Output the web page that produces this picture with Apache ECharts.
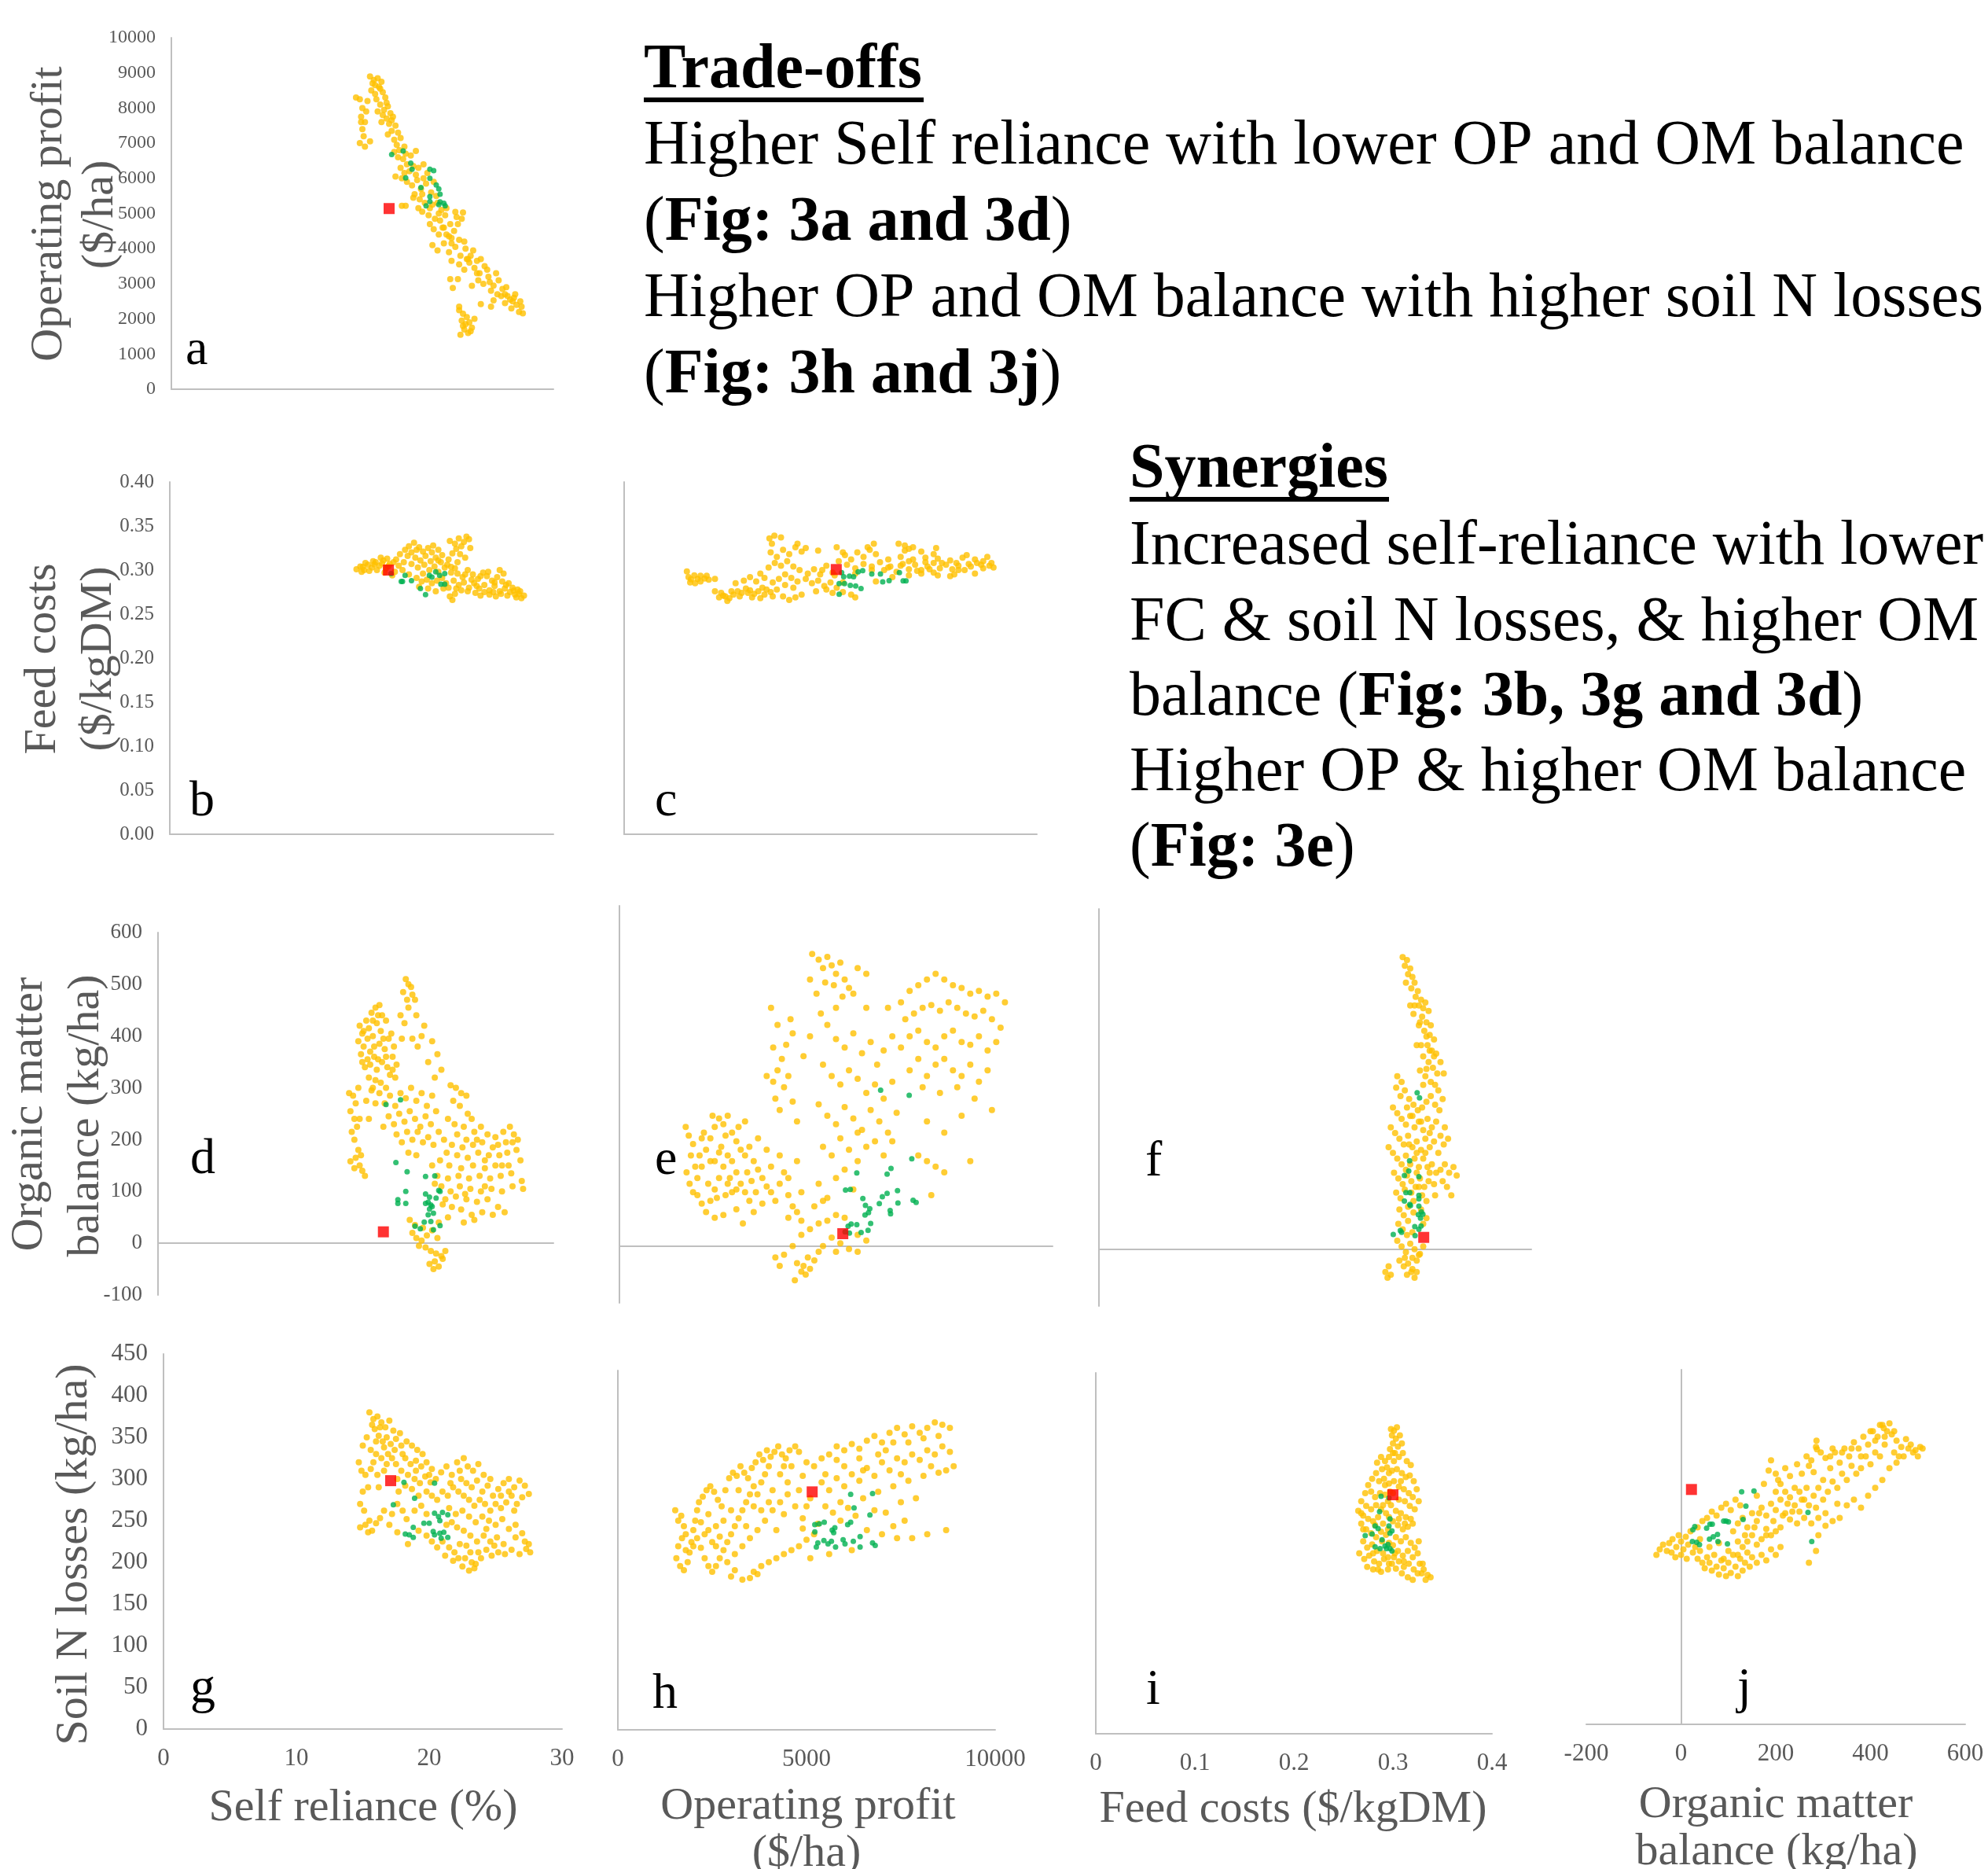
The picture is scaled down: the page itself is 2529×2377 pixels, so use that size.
<!DOCTYPE html>
<html>
<head>
<meta charset="utf-8">
<script src="https://cdn.jsdelivr.net/npm/echarts@6/dist/echarts.min.js"></script>
<style>
  html, body { margin: 0; padding: 0; background: #fff; }
  #main { width: 2529px; height: 2377px; }
</style>
</head>
<body>
<div id="main"></div>
<script>
// values, one small set per panel: [x, y]
// a: self reliance (%) vs operating profit ($/ha)
const aYellow = [[15.6,8900],[15.9,8800],[16.2,8850],[16.5,8750],[16.3,8600],[15.7,8500],[16.0,8400],[16.6,8450],[16.1,8250],[16.8,8300],[15.4,8200],[16.4,8100],[17.0,8050],[16.7,7950],[16.2,7900],[17.2,7850],[16.9,7700],[17.4,7750],[16.5,7600],[17.1,7550],[17.6,7500],[17.3,7350],[17.0,7250],[17.8,7300],[17.5,7100],[18.0,7150],[17.7,6950],[18.3,6900],
  [14.5,8300],[14.8,8250],[15.0,8000],[14.9,7750],[15.2,7600],[15.0,7400],[15.1,7200],[14.8,7000],[15.2,6900],[15.6,7050],[14.9,7600],[15.3,7900],[19.2,6780],
  [17.5,6750],[17.8,6600],[18.2,6550],[18.5,6400],[18.0,6300],[18.7,6200],[19.0,6350],[19.4,6300],[19.8,6400],[20.1,6150],[17.6,6050],[18.1,6000],[18.5,5900],[18.9,5800],[19.3,5950],[19.6,5700],[20.0,5850],[20.4,5600],[20.8,5500],[19.1,5550],[19.5,5400],[19.9,5300],[20.5,5250],[21.2,5100],[21.6,5150],[19.7,5050],[20.2,4950],[20.7,4850],[21.1,4800],[21.5,4950],[21.9,4700],[22.4,4900],[22.8,4850],[20.6,4550],[21.0,4400],[21.4,4600],[21.8,4350],[22.2,4500],[22.6,4250],[20.5,4100],[20.9,3950],[21.4,4150],[21.8,3900],[22.3,4050],[22.7,3800],[23.1,4000],[23.5,3800],[22.0,3650],[22.6,3550],[23.0,3400],[23.4,3600],[23.8,3450],[24.2,3300],[24.6,3500],[24.1,3100],[24.5,3000],[24.9,3200],[25.3,2950],[25.7,3100],[25.1,2800],[25.6,2700],[26.0,2850],[26.4,2650],[26.8,2500],[26.2,2450],[26.7,2300],[27.1,2400],[27.5,2350],[27.3,2200],[27.6,2160],[26.9,2600],
  [18.1,5220],[18.4,5220],[22.9,5030],[22.3,5045],[20.3,4700],[21.0,5000],[19.4,5150],[22.0,4150],[23.3,3700],[24.0,3650],[25.0,3050],[26.2,2700],
  [22.6,2250],[22.9,2150],[23.2,2050],[22.8,1950],[23.1,1850],[23.4,1900],[23.0,1700],[23.3,1600],[22.7,1550],[23.6,1750],[23.8,2000],[22.9,1800],[23.5,1650],
  [21.9,3130],[22.5,3130],[22.1,2880],[22.6,2350],[23.6,2940],[24.3,2420],[25.3,2530],[25.1,2350],
  [16.0,8650],[16.4,8550],[15.8,8700],[16.9,8150],[17.3,7650],[16.6,7800],[17.9,6800],[18.4,6700],[18.8,6650],[18.3,6150],[19.2,6100],[19.8,6000],[20.6,5900],[19.0,5450],[19.7,5550],[20.3,5150],[20.9,5300],[21.3,4600],[22.0,4300],[21.6,4400],[22.5,4700],[23.0,4200],[23.7,3950],[23.2,3700],[24.0,3300],[24.3,3700],[24.8,3400],[25.5,3300],[25.9,2650],[26.3,2900],[26.6,2550],[27.0,2700],[27.4,2500]];
const aGreen = [[17.3,6680],[18.2,6780],[18.8,6430],[18.9,6260],[18.4,6010],[20.3,6260],[20.6,6220],[20.3,6000],[19.6,5740],[20.8,5810],[21.0,5700],[21.1,5550],[20.3,5480],[20.3,5340],[21.1,5330],[21.0,5250],[21.4,5290],[20.0,5220],[21.5,5220]];
const aRed = [[17.1,5140]];

// b: self reliance (%) vs feed costs ($/kgDM)
const bYellow = [[14.6,0.301],[14.9,0.304],[15.2,0.300],[15.5,0.306],[15.8,0.303],[16.1,0.309],[16.4,0.305],[16.7,0.311],[15.0,0.298],[15.6,0.299],[16.2,0.300],[16.9,0.302],[17.2,0.307],[17.5,0.309],[17.0,0.313],[16.5,0.314],[15.9,0.310],[15.3,0.308],[17.7,0.312],[17.9,0.305],[18.2,0.300],[17.6,0.298],[16.8,0.297],[17.4,0.294],
  [18.0,0.318],[18.4,0.323],[18.7,0.327],[19.1,0.331],[19.5,0.326],[19.8,0.321],[20.2,0.325],[20.6,0.328],[21.0,0.323],[21.3,0.317],[18.6,0.316],[19.2,0.314],[19.6,0.311],[20.0,0.316],[20.4,0.310],[20.8,0.314],[21.2,0.309],[18.9,0.307],[19.4,0.303],[19.9,0.306],[20.3,0.300],[20.7,0.304],[21.5,0.303],[21.0,0.298],[19.8,0.296],[18.7,0.295],[19.3,0.291],[19.7,0.287],[20.1,0.289],[20.5,0.285],[20.9,0.288],[21.3,0.291],[19.5,0.281],[20.2,0.279],[20.8,0.276],[21.4,0.279],[21.6,0.285],[22.0,0.297],[22.3,0.302],[22.5,0.309],[21.8,0.312],[22.1,0.319],[22.4,0.324],
  [21.9,0.333],[22.3,0.330],[22.6,0.336],[23.0,0.332],[23.4,0.335],[23.2,0.338],[22.8,0.327],[23.5,0.325],[22.7,0.318],[23.1,0.314],
  [22.5,0.296],[22.9,0.292],[23.3,0.300],[23.7,0.295],[24.1,0.290],[24.5,0.297],[24.8,0.293],[25.2,0.288],[25.6,0.292],[26.0,0.287],[26.3,0.283],[22.2,0.288],[22.6,0.283],[23.0,0.286],[23.4,0.280],[23.8,0.285],[24.2,0.279],[24.6,0.283],[25.0,0.277],[25.4,0.282],[25.8,0.276],[26.2,0.279],[26.6,0.275],[27.0,0.272],[27.4,0.276],[27.7,0.271],[27.5,0.268],[27.1,0.269],[26.8,0.280],[27.3,0.273],[26.4,0.271],[25.9,0.273],[25.5,0.270],[25.0,0.272],[24.6,0.275],[24.3,0.271],[23.9,0.274],[23.3,0.276],[22.8,0.277],[22.3,0.273],[21.9,0.270],[22.1,0.266],[21.8,0.280],[23.6,0.289],[24.9,0.298],[25.8,0.300],[26.1,0.296],
  [15.1,0.3035],[16.0,0.3065],[16.6,0.3075],[17.1,0.3045],[18.3,0.309],[18.9,0.320],[19.3,0.323],[20.5,0.320],[21.0,0.311],[21.7,0.306],[22.0,0.3035],[23.1,0.295],[24.3,0.293],[25.4,0.286],[26.5,0.285],[27.2,0.278],[26.9,0.2765],[25.3,0.275],[24.0,0.282],[22.4,0.279]];
const bGreen = [[17.3,0.296],[18.2,0.287],[18.4,0.294],[18.9,0.288],[19.6,0.279],[20.0,0.272],[20.3,0.294],[20.8,0.298],[21.1,0.294],[20.5,0.292],[21.2,0.284],[21.5,0.284],[21.5,0.296],[18.1,0.287]];
const bRed = [[17.1,0.300]];

// c: operating profit ($/ha) vs feed costs ($/kgDM)
const cYellow = [[1520,0.2985],[1560,0.2920],[1620,0.2895],[1700,0.2940],[1780,0.2900],[1850,0.2935],[1950,0.2905],[2050,0.2890],[2200,0.2900],[1600,0.2860],[1720,0.2850],[1850,0.2870],[2200,0.2760],[2350,0.2740],[2450,0.2700],[2550,0.2680],[2650,0.2720],[2750,0.2760],[2850,0.2740],[2950,0.2790],[3050,0.2770],[3150,0.2730],[3250,0.2760],[3350,0.2800],[3450,0.2780],[3550,0.2750],[2300,0.2690],[2500,0.2650],[2800,0.2700],[3100,0.2690],[3400,0.2720],[3700,0.2780],[3850,0.2700],[4000,0.2660],[4150,0.2690],[4300,0.2720],[2700,0.2850],[2900,0.2880],[3050,0.2920],[3200,0.2870],[3400,0.2910],[3600,0.2860],[3750,0.2900],[3900,0.2950],[4050,0.2910],[4200,0.2870],[3300,0.2960],[3500,0.3030],[3650,0.3080],[3800,0.3050],[3950,0.3100],[4100,0.3040],[4250,0.3000],[3550,0.3200],[3700,0.3150],[3850,0.3230],[4000,0.3180],[4150,0.3260],[4300,0.3210],[3520,0.3360],[3640,0.3390],[3800,0.3370],[3580,0.3300],[4200,0.3300],[4400,0.3250],
  [4450,0.2960],[4600,0.3010],[4750,0.2950],[4900,0.3050],[5050,0.2970],[4550,0.2850],[4700,0.2880],[4850,0.2820],[5000,0.2860],[5150,0.2800],[5300,0.2750],[5500,0.2720],[4900,0.2780],[5050,0.2740],[4650,0.2760],[5200,0.3100],[5350,0.3170],[5500,0.3120],[5650,0.3200],[5800,0.3150],[5950,0.3230],[6100,0.3180],[5400,0.3060],[5600,0.3020],[5800,0.3070],[6000,0.3040],[6200,0.3090],[5900,0.3260],[6050,0.3300],[5150,0.3260],[4700,0.3220],[5300,0.3200],
  [6300,0.3000],[6450,0.3040],[6600,0.2980],[6750,0.3070],[6900,0.3010],[7050,0.3060],[7200,0.3000],[7350,0.3040],[7500,0.3080],[7650,0.3020],[7800,0.3060],[7950,0.3010],[8100,0.3050],[8250,0.3000],[8400,0.3040],[8550,0.3080],[8700,0.3020],[8850,0.3050],[8950,0.3030],[6400,0.3120],[6700,0.3150],[7000,0.3120],[7300,0.3140],[7600,0.3130],[7900,0.3110],[8200,0.3140],[8500,0.3120],[8800,0.3150],[6900,0.3240],[7200,0.3210],[6800,0.3280],[7000,0.3260],[7500,0.3180],[7200,0.2960],[7600,0.2940],[8000,0.2950],[8500,0.2960],[7900,0.2930],[6500,0.2920],[6900,0.2940],[7500,0.2970],[8100,0.3000],[6100,0.2870],[5600,0.2690],[5300,0.2860],[8700,0.3100],[8300,0.3170],[7100,0.2990],[7560,0.3250],[6650,0.3300],[6800,0.3220],
  [2000,0.2935],[2400,0.2710],[2600,0.2760],[3000,0.2740],[3300,0.2680],[3600,0.2700],[3900,0.2830],[4100,0.2800],[4400,0.2900],[4800,0.3000],[5100,0.2940],[5600,0.2960],[6000,0.3000],[6400,0.3030],[6700,0.3050],[7400,0.3010],[7700,0.3080],[8050,0.3080],[8350,0.3070],[8650,0.3060],[8900,0.3080],[7300,0.3090],[6900,0.3100]];
const cGreen = [[5270,0.297],[5320,0.2925],[5460,0.293],[5560,0.2925],[5670,0.298],[5780,0.2994],[6000,0.2955],[6210,0.2955],[6670,0.297],[5210,0.2845],[5340,0.2845],[5480,0.2827],[5610,0.282],[5740,0.279],[6265,0.2866],[6420,0.288],[6760,0.2878],[6830,0.2878],[5210,0.2725]];
const cRed = [[5140,0.3006]];

// d: self reliance (%) vs organic matter balance (kg/ha)
const dYellow = [[15.3,420],[15.5,405],[15.2,390],[15.6,380],[15.4,365],[15.8,430],[16.0,415],[16.2,445],[16.5,455],[16.8,460],[17.0,440],[16.6,425],[16.3,400],[16.9,410],[17.3,430],[17.5,395],[17.2,375],[16.8,385],[16.4,360],[16.1,345],[15.7,340],[16.0,320],[16.6,335],[17.0,350],[17.4,340],[17.8,360],[18.1,345],[17.6,325],[16.9,310],[16.3,300],[17.3,300],[18.0,320],[15.9,355],[15.5,350],[17.7,405],[17.9,380],
  [18.8,510],[19.0,500],[19.2,495],[18.6,485],[19.3,480],[18.9,470],[19.5,470],[19.0,455],[18.4,440],[18.7,425],[19.6,440],[20.2,420],[19.3,395],[20.0,400],[19.7,380],[18.5,395],
  [14.5,290],[14.8,285],[15.0,270],[14.6,255],[14.9,240],[15.3,240],[15.1,225],[14.7,215],[14.9,200],[15.2,180],[15.0,165],[14.6,158],[15.3,150],[15.5,140],[14.9,145],[15.4,170],[15.7,130],[16.0,240],[16.2,295],[15.8,275],
  [16.8,290],[17.2,270],[17.6,285],[18.0,265],[18.4,290],[18.8,280],[19.2,300],[19.6,275],[20.0,290],[20.4,265],[20.8,285],[17.5,245],[17.9,230],[18.3,250],[18.7,235],[19.1,255],[19.5,240],[19.9,225],[20.3,245],[20.7,230],[21.1,255],[18.1,210],[18.5,195],[18.9,215],[19.3,200],[19.7,215],[20.1,195],[20.5,205],[20.9,190],[21.3,215],[19.0,175],[19.6,170],[16.5,270],[17.1,225],[21.0,320],[20.5,350],[21.2,365],[20.8,390],[21.5,335],
  [22.2,305],[22.6,300],[23.0,290],[23.4,285],[22.4,275],[22.9,265],[23.5,250],[23.8,240],[22.0,240],[22.5,230],[23.2,225],[24.0,215],[24.5,225],[25.0,210],[25.6,205],[26.2,215],[26.7,225],[27.0,210],[27.3,200],[26.9,195],[25.8,190],[24.6,195],[23.9,190],[23.1,185],[22.3,190],[21.7,200],[21.9,175],[22.7,170],[23.5,165],[24.3,175],[25.1,170],[25.9,170],[26.5,175],[27.2,180],[27.5,160],[26.6,150],[25.6,150],[24.8,145],[23.9,150],[23.0,145],[22.1,150],[21.4,160],[20.8,150],[21.2,130],[22.0,125],[22.8,130],[23.6,125],[24.4,130],[25.2,125],[26.0,130],[26.8,135],[27.6,120],[27.7,105],[26.9,110],[26.1,100],[25.3,105],[24.5,100],[23.7,105],[22.9,110],[22.2,100],[21.5,110],[21.0,115],[21.8,85],[22.6,90],[23.4,85],[24.2,80],[25.0,85],[25.8,70],[24.6,60],[23.8,55],[23.0,65],[22.3,70],[21.6,75],[23.2,40],[24.0,45],[21.3,40],[22.0,50],[26.3,60],[25.4,55],
  [19.3,20],[19.6,10],[20.0,5],[20.4,15],[20.8,25],[21.2,10],[19.8,-5],[20.3,-8],[20.7,-15],[21.1,-20],[21.5,-25],[21.0,-35],[20.6,-40],[21.3,-45],[20.9,-50],[21.8,-15],[21.6,-30],[19.5,35],[20.1,30],[19.1,45],
  [15.6,410],[16.3,430],[16.7,440],[15.9,395],[16.4,380],[17.1,395],[16.1,370],[16.7,355],[17.3,360],[17.8,335],[16.5,315],[15.2,300],[24.2,200],[25.4,185],[26.4,195],[22.7,210],[23.4,200],[24.8,160],[26.1,150],[23.3,95],[24.8,110]];
const dGreen = [[17.3,268],[18.4,277],[18.05,156],[18.9,138],[18.8,100],[18.2,84],[18.2,77],[18.8,77],[20.3,129],[21.0,130],[20.3,95],[20.6,89],[21.1,87],[21.3,102],[21.4,100],[20.7,74],[20.3,77],[20.6,66],[20.9,58],[20.5,55],[20.7,42],[20.2,41],[19.5,33],[19.9,28],[20.9,26],[21.4,34],[20.8,71],[20.5,79]];
const dRed = [[17.1,22]];

// e: operating profit ($/ha) vs organic matter balance (kg/ha)
const eYellow = [[1530,210],[1600,195],[1700,180],[1650,160],[1550,130],[1620,110],[1700,95],[1800,120],[1900,140],[2000,170],[2100,190],[2200,210],[2300,225],[2400,215],[2500,230],[2600,200],[2700,185],[2800,170],[2900,160],[3000,175],[3100,150],[3200,135],[3300,120],[3400,105],[3500,95],[3600,80],[3700,110],[3800,130],[3900,90],[4000,70],[4100,60],[4200,45],[1800,90],[1900,75],[2000,60],[2100,80],[2200,100],[2300,120],[2400,140],[2500,160],[2600,150],[2700,130],[2800,110],[2900,95],[3000,80],[3100,60],[2200,150],[2350,175],[1950,200],[2150,230],[2450,195],[2750,210],[2050,110],[2600,95],[2900,220],[3200,190],[3400,170],[3500,140],[3700,160],[3300,75],[2850,40],[2400,55],[2700,65],[2200,50],[3900,120],[4100,150],[4200,95],[1750,140],[2550,120],[3050,115],
  [3550,290],[3650,310],[3750,330],[3600,260],[3800,280],[3900,300],[3700,240],[4000,255],[4100,220],[3850,355],[4000,375],[3950,400],[3650,390],[3500,420],[4250,335],[4400,370],[3400,300],[3550,350],
  [4450,515],[4600,505],[4700,490],[4800,510],[4900,495],[5000,480],[5100,500],[5200,470],[5300,455],[4750,465],[4950,460],[5500,490],[5700,480],[5400,445],[4400,470],[4550,445],[5150,440],
  [4800,390],[5000,365],[5200,350],[5400,375],[5600,340],[5800,360],[5950,320],[6100,345],[6300,370],[4700,320],[4900,300],[5100,285],[5300,310],[5500,295],[5700,270],[5900,285],[6100,260],[6300,290],[4600,250],[4800,230],[5000,215],[5200,245],[5400,225],[5600,205],[5800,240],[6000,220],[6200,200],[6400,235],[4700,175],[4900,160],[5100,190],[5300,170],[5500,150],[5700,175],[5900,185],[6100,160],[6300,185],[5000,120],[5200,135],[5400,100],[4600,110],[4800,85],[5500,200],[5000,420],[4650,410],[5700,420],[6200,420],
  [6500,430],[6700,450],[6900,460],[7100,470],[7300,480],[7500,470],[7700,460],[7900,455],[8100,445],[8300,450],[8500,440],[8700,445],[8900,430],[6600,400],[6800,410],[7000,420],[7200,425],[7400,415],[7600,430],[7800,420],[8000,410],[8200,405],[8400,415],[8600,400],[8800,385],[6500,350],[6700,370],[6900,380],[7100,360],[7300,350],[7500,370],[7700,380],[7900,360],[8100,355],[8300,370],[8500,345],[8700,360],[6700,310],[6900,330],[7100,300],[7300,320],[7500,330],[7700,310],[7900,300],[8100,320],[8300,290],[8500,310],[7000,280],[7400,270],[7800,280],[8200,260],[8600,240],[7100,220],[7500,200],[7900,230],[6900,160],[7100,150],[7300,140],[7500,130],[8100,150],[7200,90],
  [3600,-20],[3700,-35],[3800,-15],[4000,0],[4100,-30],[4200,-45],[4300,-50],[4400,-40],[4500,-25],[4600,-10],[4700,0],[4900,15],[5100,5],[5300,-5],[5500,20],[5700,10],[4400,30],[4200,20],[4600,40],[4800,45],[5000,55],[5200,50],[4500,70],[4700,80],[3900,50],[5500,-10],[4350,-20],[4050,-60],[4250,-35],[5000,-10],
  [1900,190],[2100,150],[2300,165],[2500,110],[2700,100],[2950,130],[3150,95],[2250,85],[2450,90],[1850,160]];
const eGreen = [[6030,275],[6690,266],[6750,154],[6270,137],[6180,127],[5480,129],[5220,99],[5330,100],[5620,84],[6070,87],[6180,93],[6420,98],[6000,75],[5680,72],[6430,76],[6780,81],[6850,77],[5780,66],[5750,59],[5670,55],[6250,63],[6260,57],[5800,40],[5740,28],[5580,24],[5480,38],[5350,39],[5280,35],[5310,23],[5210,25]];
const eRed = [[5157,22]];

// f: feed costs ($/kgDM) vs organic matter balance (kg/ha)
const fYellow = [[0.281,515],[0.285,510],[0.283,500],[0.288,495],[0.286,485],[0.290,480],[0.284,470],[0.292,470],[0.289,460],[0.295,455],[0.293,445],[0.298,440],[0.296,430],[0.300,425],[0.302,435],[0.305,420],[0.299,410],[0.303,400],[0.307,395],[0.301,385],[0.306,378],[0.310,370],[0.304,360],[0.308,350],[0.312,345],[0.300,340],[0.305,330],[0.309,320],[0.313,310],[0.297,315],[0.302,305],[0.307,295],[0.311,290],[0.316,330],[0.319,310],[0.314,280],[0.296,395],[0.294,360],[0.291,415],[0.288,430],
  [0.276,305],[0.280,295],[0.275,285],[0.279,270],[0.283,280],[0.287,265],[0.291,255],[0.295,245],[0.299,250],[0.303,260],[0.307,270],[0.311,255],[0.315,245],[0.318,265],[0.272,250],[0.276,240],[0.280,230],[0.284,220],[0.288,235],[0.292,215],[0.296,225],[0.300,210],[0.304,230],[0.308,215],[0.312,225],[0.316,200],[0.320,215],[0.270,215],[0.274,205],[0.278,195],[0.282,185],[0.286,200],[0.290,180],[0.294,190],[0.298,175],[0.302,195],[0.306,180],[0.310,190],[0.314,170],[0.319,185],[0.323,195],[0.268,180],[0.272,170],[0.276,160],[0.280,150],[0.284,165],[0.288,150],[0.292,160],[0.296,145],[0.300,160],[0.304,145],[0.308,150],[0.312,135],[0.316,140],[0.320,150],[0.324,135],[0.328,145],[0.331,130],[0.273,135],[0.277,125],[0.281,115],[0.285,130],[0.289,120],[0.293,110],[0.297,125],[0.301,110],[0.305,120],[0.310,115],[0.318,120],[0.322,110],[0.275,100],[0.279,90],[0.283,105],[0.291,85],[0.299,95],[0.303,85],[0.311,95],[0.278,70],[0.282,60],[0.286,75],[0.291,65],[0.298,70],[0.303,55],[0.277,45],[0.281,35],[0.285,25],[0.300,45],[0.326,95],
  [0.276,15],[0.280,5],[0.284,-5],[0.288,10],[0.292,0],[0.296,-10],[0.300,5],[0.278,-20],[0.282,-30],[0.286,-25],[0.290,-35],[0.294,-20],[0.285,-45],[0.289,-40],[0.292,-50],[0.268,-30],[0.265,-40],[0.270,-45],[0.267,-50],[0.297,-8],
  [0.292,430],[0.297,400],[0.303,375],[0.306,350],[0.310,340],[0.298,360],[0.303,318],[0.300,290],[0.285,250],[0.290,235],[0.298,225],[0.306,205],[0.294,170],[0.302,170],[0.287,185],[0.284,140],[0.294,135],[0.306,135],[0.289,100],[0.296,110],[0.286,50],[0.290,30],[0.283,-15],[0.290,-15],[0.294,-40]];
const fGreen = [[0.2944,276],[0.2966,267],[0.2874,156],[0.2866,138],[0.2826,130],[0.296,128],[0.284,100],[0.2876,100],[0.296,95],[0.2826,85],[0.2876,79],[0.2882,77],[0.296,89],[0.296,76],[0.2983,66],[0.2955,61],[0.2975,55],[0.2997,62],[0.298,41],[0.296,35],[0.2922,40],[0.2925,24],[0.2788,33],[0.2723,26],[0.280,30]];
const fRed = [[0.3005,21]];

// g: self reliance (%) vs soil N losses (kg/ha)
const gYellow = [[15.5,380],[15.8,372],[16.1,375],[16.4,368],[16.7,362],[17.0,370],[17.3,358],[15.9,360],[16.2,352],[16.5,345],[16.8,350],[17.1,342],[17.5,348],[17.8,355],[15.3,350],[15.0,340],[15.6,335],[16.0,330],[16.4,325],[16.9,330],[17.4,335],[17.9,340],[18.3,345],[18.7,340],[19.1,335],[19.5,330],[18.2,325],[18.6,318],[19.0,322],[19.4,315],[19.8,320],[20.2,312],[14.7,320],[14.9,310],[15.2,305],[15.6,312],[16.1,305],[16.6,310],[17.5,318],[17.9,310],[18.4,305],[18.9,300],[19.3,295],[19.7,303],[20.1,296],[20.5,300],[20.9,308],[21.3,315],[21.7,305],[22.1,320],[22.6,325],[22.9,315],[23.3,310],[23.7,318],[24.1,305],[22.4,300],[22.8,295],[23.2,290],[23.6,298],[24.0,285],[24.4,292],[24.8,280],[25.2,288],[25.6,295],[26.0,300],[26.4,290],[26.8,298],[27.2,292],[27.5,282],[27.0,278],[26.6,270],[26.2,280],[25.8,272],[25.4,265],[25.0,270],[24.6,262],[24.2,270],[23.8,275],[23.4,268],[23.0,275],[22.6,280],[22.2,285],[21.8,290],[21.4,280],[21.0,285],[20.6,275],[20.2,280],[19.8,285],[19.2,280],[18.7,288],[18.2,292],[17.7,285],[16.2,290],[15.4,290],[15.0,285],[14.8,270],[15.1,262],[15.5,250],[15.2,245],[14.8,242],[15.7,238],[16.0,247],[16.3,253],[15.4,236],[16.6,262],[17.2,258],[17.6,270],[18.0,262],[18.3,252],[18.9,262],[19.4,268],[19.8,258],[21.5,265],[22.0,258],[22.5,262],[23.0,255],[23.5,248],[24.0,255],[24.5,250],[25.0,245],[25.5,252],[26.0,240],[26.5,245],[27.0,235],[27.5,222],[27.6,212],[27.3,216],[26.8,210],[26.2,215],[25.6,222],[25.1,230],[24.6,225],[24.1,232],[23.6,225],[23.1,232],[22.6,238],[22.1,242],[21.7,248],[21.3,245],[21.0,225],[21.5,218],[21.9,212],[22.3,222],[22.7,205],[23.1,212],[23.5,198],[23.9,205],[24.3,215],[24.7,208],[25.2,212],[25.7,210],[22.5,195],[23.0,190],[23.4,193],[21.8,202],[21.2,208],[20.6,218],[20.2,225],[19.8,232],[19.2,238],[18.4,222],[17.6,236],[17.0,245],
  [15.7,365],[16.3,362],[16.0,345],[16.6,338],[17.2,325],[15.8,320],[16.8,318],[17.6,300],[18.0,330],[19.0,310],[20.0,305],[21.6,295],[22.3,310],[24.6,300],[25.4,280],[26.0,285],[26.4,262],[24.3,240],[22.8,220],[23.7,212],[24.9,220],[22.2,205],[23.2,200],[26.5,230],[27.2,225]];
const gGreen = [[18.1,296],[20.4,295],[18.9,277],[17.3,269],[20.4,259],[20.7,255],[21.4,257],[21.0,260],[20.8,250],[19.6,247],[20.0,247],[18.8,242],[20.3,237],[20.4,233],[20.8,235],[21.1,236],[18.2,234],[18.5,233],[18.8,230],[20.9,229],[21.4,230]];
const gRed = [[17.1,298]];

// h: operating profit ($/ha) vs soil N losses (kg/ha)
const hYellow = [[1520,275],[1600,262],[1680,268],[1750,255],[1800,245],[1700,240],[1600,230],[1550,215],[1650,205],[1750,200],[1850,210],[1900,222],[1950,235],[2000,250],[2050,262],[2100,275],[2150,285],[2250,292],[2350,300],[2450,305],[2550,298],[2650,288],[2750,280],[2850,300],[2950,315],[3050,322],[3150,318],[3250,330],[3350,322],[3450,315],[3550,328],[3650,335],[3750,345],[3850,338],[3950,350],[4050,342],[4150,348],[4250,355],[4350,345],[4450,340],[4550,350],[4700,355],[4800,348],[2100,240],[2200,228],[2300,215],[2400,205],[2500,198],[2600,205],[2700,215],[2800,225],[2900,235],[3000,245],[3100,255],[3200,265],[3300,275],[3400,285],[3500,295],[3600,305],[3700,295],[3800,310],[3900,320],[2200,260],[2400,270],[2600,255],[2800,262],[3000,275],[2300,245],[2500,235],[2700,242],[2900,210],[3100,220],[3300,230],[3500,240],[3700,250],[3900,262],[4100,275],[4300,285],[4500,295],[3600,198],[3800,205],[4000,210],[4200,215],[4400,220],[4600,225],[3500,190],[3700,195],[3300,188],[3100,200],[3000,192],[4800,230],[5000,238],[5200,245],[4900,265],[4700,280],[4500,310],[4300,320],[4100,300],[4000,285],[4600,330],[4900,318],[5000,335],[5200,330],[5400,340],[5600,345],[5800,338],[6000,350],[6200,358],[6400,352],[6600,362],[6800,368],[7000,360],[7200,372],[7400,378],[7600,370],[7800,380],[8000,372],[8200,378],[8400,385],[8600,382],[8800,378],[5400,310],[5600,300],[5800,315],[6000,305],[6200,320],[6400,312],[6600,328],[6800,318],[7000,335],[7200,325],[7400,340],[7600,335],[7800,345],[8000,338],[8200,350],[8400,345],[8600,355],[8800,348],[8900,330],[8700,325],[5500,280],[5700,272],[5900,285],[6100,278],[6500,290],[6900,298],[7300,305],[7700,312],[8100,318],[8500,322],[5300,258],[5900,262],[6300,268],[7100,272],[7500,285],[7900,290],[6600,250],[7000,245],[7400,240],[7800,240],[8200,245],[8700,250],[7600,262],[6200,225],[5600,220],[5100,215],[4900,252],[5500,320],[5800,355],[6400,340],[7100,350],[5100,290],[4400,270],[4200,250],[3800,275],[3400,255],[6800,275],[7300,255],
  [2400,250],[2000,230],[1800,225],[2600,230],[3200,300],[3600,280],[4000,330],[4400,330],[4800,300],[5000,280],[6500,325],[6900,345],[7300,360],[7700,360],[8100,365],[8500,368],[8300,330],[7500,320],[6000,330]];
const hGreen = [[6170,295],[6750,296],[6260,278],[6680,269],[5220,257],[5340,258],[5470,260],[5220,248],[5680,250],[5750,253],[5720,247],[6090,257],[6170,260],[5300,234],[5260,229],[5460,237],[5570,233],[5660,236],[5970,238],[6020,233],[5770,229],[6240,236],[6420,242],[6420,229],[6750,234],[6820,231]];
const hRed = [[5150,298]];

// i: feed costs ($/kgDM) vs soil N losses (kg/ha)
const iYellow = [[0.298,380],[0.301,378],[0.304,382],[0.299,372],[0.303,368],[0.307,372],[0.300,362],[0.305,358],[0.309,362],[0.297,355],[0.302,350],[0.296,345],[0.301,340],[0.306,345],[0.310,350],[0.314,340],[0.318,335],[0.292,340],[0.288,345],[0.284,338],[0.289,330],[0.294,332],[0.299,328],[0.304,330],[0.309,325],[0.313,320],[0.317,322],[0.321,315],[0.283,325],[0.279,318],[0.286,315],[0.291,318],[0.296,312],[0.301,315],[0.306,308],[0.311,305],[0.316,300],[0.320,295],[0.324,305],[0.275,310],[0.272,300],[0.278,302],[0.282,295],[0.287,300],[0.292,298],[0.297,302],[0.306,292],[0.312,290],[0.317,284],[0.322,280],[0.326,290],[0.268,290],[0.273,284],[0.278,280],[0.283,285],[0.288,280],[0.293,275],[0.298,285],[0.303,278],[0.308,275],[0.313,270],[0.318,268],[0.265,278],[0.270,272],[0.275,268],[0.280,265],[0.285,270],[0.290,262],[0.300,265],[0.305,260],[0.310,255],[0.315,258],[0.320,262],[0.268,262],[0.273,255],[0.278,250],[0.283,245],[0.288,252],[0.293,248],[0.303,245],[0.308,240],[0.313,245],[0.318,238],[0.322,232],[0.326,240],[0.270,240],[0.274,232],[0.279,236],[0.284,228],[0.290,225],[0.300,235],[0.305,228],[0.310,222],[0.315,228],[0.320,220],[0.325,225],[0.266,225],[0.271,218],[0.276,222],[0.281,215],[0.286,212],[0.291,218],[0.296,212],[0.301,220],[0.306,215],[0.311,208],[0.316,212],[0.321,205],[0.327,212],[0.331,205],[0.335,198],[0.338,195],[0.333,192],[0.329,200],[0.274,208],[0.280,205],[0.288,202],[0.295,205],[0.303,206],[0.309,200],[0.315,195],[0.320,192],
  [0.300,350],[0.296,325],[0.292,310],[0.300,300],[0.308,315],[0.295,290],[0.290,285],[0.296,270],[0.306,268],[0.282,260],[0.295,255],[0.312,262],[0.289,240],[0.296,238],[0.302,225],[0.280,225],[0.295,220],[0.285,205],[0.299,212],[0.311,215],[0.325,200],[0.330,212],[0.270,255],[0.268,275]];
const iGreen = [[0.288,296],[0.296,294],[0.2865,277],[0.297,268],[0.282,259],[0.285,256],[0.296,259],[0.297,250],[0.279,249],[0.272,247],[0.299,253],[0.289,242],[0.282,233],[0.287,231],[0.292,234],[0.295,236],[0.297,231],[0.299,228],[0.2935,231]];
const iRed = [[0.300,298]];

// j: organic matter balance (kg/ha) vs soil N losses (kg/ha)
const jYellow = [[-52,215],[-45,222],[-38,228],[-30,220],[-25,230],[-18,235],[-10,225],[-5,240],[0,232],[5,222],[10,238],[15,228],[20,245],[-20,218],[-12,212],[0,215],[12,210],[25,218],[30,225],[35,210],[40,220],[45,205],[50,198],[55,212],[60,205],[65,195],[70,215],[75,200],[80,190],[85,208],[90,198],[95,188],[100,205],[105,192],[110,215],[115,200],[120,188],[125,210],[130,195],[135,205],[140,218],[145,200],[150,212],[160,205],[170,215],[180,208],[190,222],[200,215],[210,225],[35,250],[45,258],[55,262],[65,270],[75,265],[85,275],[95,280],[105,272],[115,285],[125,278],[110,245],[120,255],[130,262],[140,250],[150,268],[160,258],[170,275],[180,265],[190,280],[200,272],[210,285],[220,295],[230,288],[240,300],[250,295],[160,290],[175,305],[185,322],[190,335],[200,318],[210,305],[220,325],[230,315],[245,330],[255,318],[265,340],[275,335],[285,352],[295,345],[305,338],[315,325],[325,345],[335,332],[345,350],[355,340],[365,358],[375,350],[385,365],[395,355],[405,372],[415,365],[425,380],[435,372],[445,368],[455,360],[465,352],[475,362],[485,355],[495,348],[505,352],[510,350],[500,340],[490,345],[470,340],[450,345],[430,355],[410,345],[400,330],[390,340],[380,325],[370,318],[360,328],[350,310],[340,318],[330,300],[320,308],[310,295],[300,285],[290,300],[280,290],[270,278],[260,285],[250,270],[240,278],[230,260],[220,268],[210,250],[200,245],[190,240],[180,248],[170,235],[160,228],[150,240],[140,232],[130,225],[245,255],[260,262],[275,255],[290,262],[305,268],[320,258],[335,262],[350,278],[365,285],[380,275],[395,290],[410,300],[425,310],[440,325],[455,332],[420,380],[428,376],[440,382],[400,372],[180,240],[290,240],[305,252],[280,320],[270,328],[320,350],[285,220],[270,205],[330,280],[200,295],[205,310],[286,360],[287,349],
  [60,225],[80,230],[100,220],[120,232],[135,240],[155,250],[165,268],[195,258],[215,265],[225,280],[235,270],[255,285],[265,300],[285,275],[300,310],[315,340],[340,345],[360,350],[380,340],[410,360],[430,365],[450,372],[460,340],[480,350],[420,340],[120,215],[90,210],[40,235]];
const jGreen = [[128,295],[154,296],[137,277],[131,260],[268,269],[276,232],[29,251],[25,247],[54,249],[61,254],[66,254],[90,258],[95,258],[100,257],[24,232],[33,231],[39,228],[60,235],[68,238],[77,241],[78,232],[98,229]];
const jRed = [[22,298]];

const FONT = "'Liberation Serif', 'Times New Roman', serif";
const GREY = '#595959';
const AXIS = '#bfbfbf';

// layout: grid box [left, top, width, height], axis [min, max, interval], label sizes
const panels = [
  {id: 'a', box: [218, 48, 486, 447], data: [aYellow, aGreen, aRed], x: [0, 30], y: [0, 10000, 1000], yLab: 24, letter: [236, 446]},
  {id: 'b', box: [216, 613, 488, 448], data: [bYellow, bGreen, bRed], x: [0, 30], y: [0, 0.4, 0.05], yLab: 25, yFix: 2, letter: [241, 1020]},
  {id: 'c', box: [794, 613, 525, 448], data: [cYellow, cGreen, cRed], x: [0, 10000], y: [0, 0.4], letter: [833, 1020]},
  {id: 'd', box: [201, 1186, 503, 461], data: [dYellow, dGreen, dRed], x: [0, 30], y: [-100, 600, 100], yLab: 27, letter: [242, 1475]},
  {id: 'e', box: [788, 1152, 551, 505], data: [eYellow, eGreen, eRed], x: [0, 10000], y: [-100, 600], letter: [833, 1476]},
  {id: 'f', box: [1398, 1156, 550, 505], data: [fYellow, fGreen, fRed], x: [0, 0.4], y: [-100, 600], letter: [1457, 1478]},
  {id: 'g', box: [208, 1722, 507, 477], data: [gYellow, gGreen, gRed], x: [0, 30, 10], y: [0, 450, 50], yLab: 31, xLab: true, letter: [242, 2148]},
  {id: 'h', box: [786, 1743, 480, 457], data: [hYellow, hGreen, hRed], x: [0, 10000, 5000], y: [0, 450], xLab: true, letter: [830, 2155]},
  {id: 'i', box: [1394, 1746, 504, 459], data: [iYellow, iGreen, iRed], x: [0, 0.4, 0.1], y: [0, 450], xLab: true, xFix: 1, letter: [1458, 2150]},
  {id: 'j', box: [2018, 1742, 482, 451], data: [jYellow, jGreen, jRed], x: [-200, 600, 200], y: [0, 450], xLab: true, letter: [2210, 2148]}
];

const labelFmt = (fix) => (v) => {
  if (fix === undefined) return String(Math.round(v));
  if (fix === 1 && Math.abs(v) < 1e-9) return '0';
  return v.toFixed(fix);
};

const grid = [], xAxis = [], yAxis = [], series = [];
panels.forEach((p, i) => {
  grid.push({left: p.box[0], top: p.box[1], width: p.box[2], height: p.box[3]});
  xAxis.push({
    gridIndex: i, type: 'value', min: p.x[0], max: p.x[1], interval: p.x[2],
    axisLine: {onZero: true, lineStyle: {color: AXIS, width: 2}},
    axisTick: {show: false}, splitLine: {show: false},
    axisLabel: {show: !!p.xLab, color: GREY, fontFamily: FONT, fontSize: 31, margin: 22, formatter: labelFmt(p.xFix)}
  });
  yAxis.push({
    gridIndex: i, type: 'value', min: p.y[0], max: p.y[1], interval: p.y[2],
    axisLine: {onZero: true, lineStyle: {color: AXIS, width: 2}},
    axisTick: {show: false}, splitLine: {show: false},
    axisLabel: {show: !!p.yLab, color: GREY, fontFamily: FONT, fontSize: p.yLab || 24, margin: 20, formatter: labelFmt(p.yFix)}
  });
  series.push(
    {type: 'scatter', xAxisIndex: i, yAxisIndex: i, data: p.data[0], symbolSize: 8, itemStyle: {color: '#FFC000'}, z: 2},
    {type: 'scatter', xAxisIndex: i, yAxisIndex: i, data: p.data[1], symbolSize: 7, itemStyle: {color: '#00B050'}, z: 3},
    {type: 'scatter', xAxisIndex: i, yAxisIndex: i, data: p.data[2], symbol: 'rect', symbolSize: 14, itemStyle: {color: '#FF0000'}, z: 4}
  );
});

const txt = (x, y, text, size, opts) => Object.assign({
  type: 'text', x: x, y: y, silent: true,
  style: Object.assign({text: text, fontFamily: FONT, fontSize: size, fill: GREY,
    align: 'center', verticalAlign: 'middle', textAlign: 'center', textVerticalAlign: 'middle'}, (opts && opts.style) || {})
}, (opts && opts.el) || {});

const graphic = [];
// panel letters
panels.forEach(p => {
  graphic.push(txt(p.letter[0], p.letter[1], p.id, 64, {style: {fill: '#000', align: 'left', textAlign: 'left'}}));
});
// y axis titles (rotated)
const rot = {el: {rotation: Math.PI / 2}};
graphic.push(txt(63, 272, 'Operating profit', 58, rot));
graphic.push(txt(128, 273, '($/ha)', 58, rot));
graphic.push(txt(55, 838, 'Feed costs', 58, rot));
graphic.push(txt(126, 838, '($/kgDM)', 58, rot));
graphic.push(txt(38, 1417, 'Organic matter', 58, rot));
graphic.push(txt(110, 1419, 'balance (kg/ha)', 58, rot));
graphic.push(txt(95, 1977, 'Soil N losses (kg/ha)', 58, rot));
// x axis titles
graphic.push(txt(462, 2300, 'Self reliance (%)', 58));
graphic.push(txt(1028, 2298, 'Operating profit', 58));
graphic.push(txt(1026, 2358, '($/ha)', 58));
graphic.push(txt(1645, 2302, 'Feed costs ($/kgDM)', 58));
graphic.push(txt(2259, 2296, 'Organic matter', 58));
graphic.push(txt(2260, 2356, 'balance (kg/ha)', 58));

// notes on the right
const rich = {b: {fontFamily: FONT, fontSize: 80, fontWeight: 'bold', fill: '#000'}};
const note = (x, y, text, bold) => txt(x, y, text, 80, {style: {
  fill: '#000', align: 'left', textAlign: 'left', fontWeight: bold ? 'bold' : 'normal', rich: rich}});
graphic.push(note(819, 90, 'Trade-offs', true));
graphic.push({type: 'rect', shape: {x: 819, y: 124, width: 356, height: 6}, style: {fill: '#000'}, silent: true});
graphic.push(note(819, 187, 'Higher Self reliance with lower OP and OM balance'));
graphic.push(note(819, 284, '({b|Fig: 3a and 3d})'));
graphic.push(note(819, 381, 'Higher OP and OM balance with higher soil N losses'));
graphic.push(note(819, 478, '({b|Fig: 3h and 3j})'));
graphic.push(note(1437, 598, 'Synergies', true));
graphic.push({type: 'rect', shape: {x: 1437, y: 632, width: 330, height: 6}, style: {fill: '#000'}, silent: true});
graphic.push(note(1437, 696, 'Increased self-reliance with lower'));
graphic.push(note(1437, 793, 'FC & soil N losses, & higher OM'));
graphic.push(note(1437, 888, 'balance ({b|Fig: 3b, 3g and 3d})'));
graphic.push(note(1437, 984, 'Higher OP & higher OM balance'));
graphic.push(note(1437, 1080, '({b|Fig: 3e})'));

const chart = echarts.init(document.getElementById('main'));
chart.setOption({
  backgroundColor: '#fff',
  animation: false,
  grid: grid,
  xAxis: xAxis,
  yAxis: yAxis,
  series: series,
  graphic: graphic
});
</script>
</body>
</html>
